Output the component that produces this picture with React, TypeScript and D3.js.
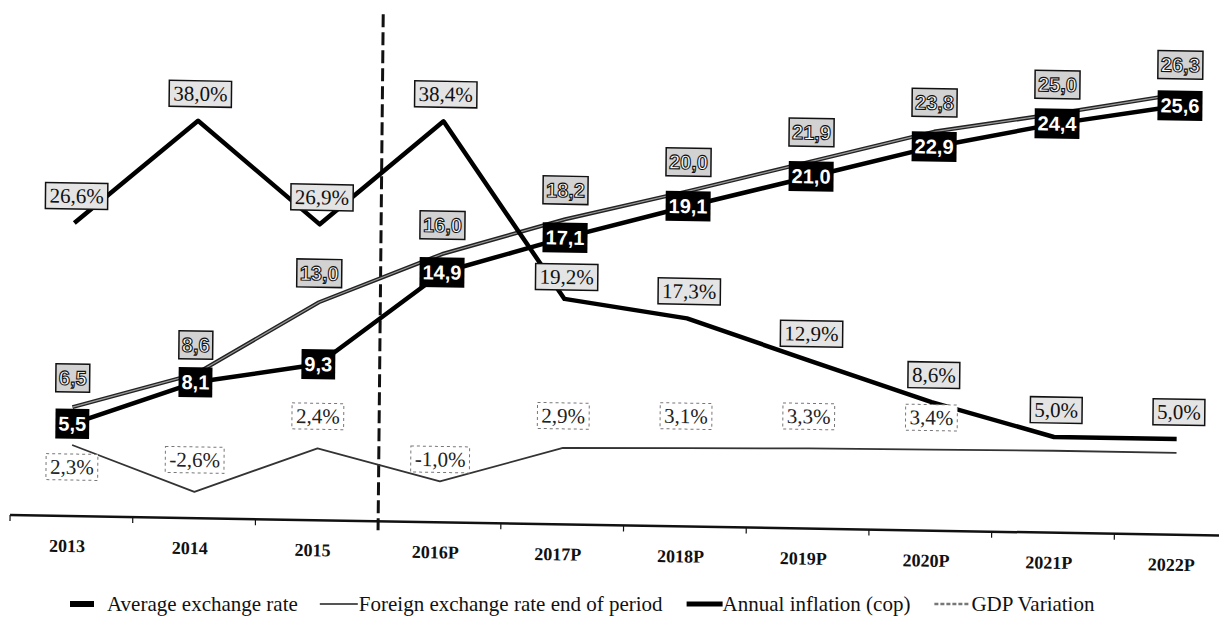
import React from 'react';
import * as d3 from 'd3';

// Categories and series (exchange rates in thousands, rates in %)
const years = ['2013', '2014', '2015', '2016P', '2017P', '2018P', '2019P', '2020P', '2021P', '2022P'];
const averageRate = [5.5, 8.1, 9.3, 14.9, 17.1, 19.1, 21.0, 22.9, 24.4, 25.6];
const endOfPeriodRate = [6.5, 8.6, 13.0, 16.0, 18.2, 20.0, 21.9, 23.8, 25.0, 26.3];
const inflation = [26.6, 38.0, 26.9, 38.4, 19.2, 17.3, 12.9, 8.6, 5.0, 5.0];
const gdpVariation = [2.3, -2.6, 2.4, -1.0, 2.9, 3.1, 3.3, 3.4, 3.5, 3.5];
const gdpLabelCount = 8;
const forecastStart = '2016P';
const legendLabels = [
  'Average exchange rate',
  'Foreign exchange rate end of period',
  'Annual inflation (cop)',
  'GDP Variation',
];

const W = 1219;
const H = 622;

const fmt = (v: number) => v.toFixed(1).replace('.', ',');
const fmtPct = (v: number) => fmt(v) + '%';

let ctx: CanvasRenderingContext2D | null = null;
function measure(text: string, font: string): number {
  if (typeof document === 'undefined') return text.length * 10;
  if (!ctx) ctx = document.createElement('canvas').getContext('2d');
  if (!ctx) return text.length * 10;
  ctx.font = font;
  return ctx.measureText(text).width;
}

const SANS = '"Liberation Sans", Arial, sans-serif';
const SERIF = '"Liberation Serif", "Times New Roman", serif';

export default function App() {
  const x = d3.scaleBand<string>().domain(years).range([10, 1237]);
  const cx = (d: string) => (x(d) as number) + x.bandwidth() / 2;
  const yRate = d3.scaleLinear().domain([0, 30]).range([515, 12]);
  const yPct = d3.scaleLinear().domain([-5, 50]).range([510.7, 8]);

  const line = (ys: (v: number) => number) =>
    d3
      .line<number>()
      .x((_, i) => cx(years[i]))
      .y((v) => ys(v));

  const avgPath = line(yRate)(averageRate) as string;
  const endPath = line(yRate)(endOfPeriodRate) as string;
  const inflPath = line(yPct)(inflation) as string;
  const gdpPath = line(yPct)(gdpVariation) as string;

  const dividerX = x(forecastStart) as number;

  const boxFontSans = `bold 20px ${SANS}`;
  const boxFontSerif = `21px ${SERIF}`;

  // slight skew of the whole plot area
  const skew = 'matrix(1,0.017,-0.01,1,5.2,-0.17)';

  const legendY = 604;
  const legendFont = 21;
  const lx1 = 107;
  const lx2 = lx1 + measure(legendLabels[0], `${legendFont}px ${SERIF}`) + 22;
  const lx3 = lx2 + 39 + measure(legendLabels[1], `${legendFont}px ${SERIF}`) + 24;
  const lx4 = lx3 + 36 + measure(legendLabels[2], `${legendFont}px ${SERIF}`) + 24;

  return (
    <svg
      width={W}
      height={H}
      viewBox={`0 0 ${W} ${H}`}
      style={{ position: 'absolute', left: 0, top: 0, background: '#fff' }}
    >
      <rect x={0} y={0} width={W} height={H} fill="#fff" />
      <g transform={skew}>
        {/* category axis */}
        <line x1={10} x2={1230} y1={515} y2={515} stroke="#111" strokeWidth={2.5} />
        {years.map((d) => (
          <line key={'t' + d} x1={x(d) as number} x2={x(d) as number} y1={515} y2={521} stroke="#111" strokeWidth={1.2} />
        ))}
        {years.map((d) => (
          <text
            key={'xl' + d}
            x={cx(d) - 4}
            y={551}
            textAnchor="middle"
            fontFamily={SERIF}
            fontWeight="bold"
            fontSize={18}
            fill="#111"
          >
            {d}
          </text>
        ))}

        {/* forecast divider */}
        <line
          x1={dividerX}
          x2={dividerX}
          y1={8}
          y2={524}
          stroke="#111"
          strokeWidth={3}
          strokeDasharray="13 5"
        />

        {/* GDP variation */}
        <path d={gdpPath} fill="none" stroke="#333" strokeWidth={1.8} strokeLinejoin="round" />

        {/* end of period exchange rate: dark edged line with a lighter core */}
        <path d={endPath} fill="none" stroke="#222" strokeWidth={4} strokeLinejoin="round" />
        <path d={endPath} fill="none" stroke="#9a9a9a" strokeWidth={1.2} strokeLinejoin="round" />

        {/* average exchange rate */}
        <path d={avgPath} fill="none" stroke="#000" strokeWidth={4.5} strokeLinejoin="round" />

        {/* annual inflation */}
        <path d={inflPath} fill="none" stroke="#000" strokeWidth={4.5} strokeLinejoin="round" />

        {/* GDP labels */}
        {gdpVariation.slice(0, gdpLabelCount).map((v, i) => {
          const t = fmtPct(v);
          const w = measure(t, boxFontSerif) + 8;
          const px = cx(years[i]);
          const py = yPct(v) + (i === 0 ? 22 : i === 3 ? -22 : -32);
          return (
            <g key={'gl' + i}>
              <rect
                x={px - w / 2}
                y={py - 13}
                width={w}
                height={26}
                fill="#fff"
                stroke="#777"
                strokeWidth={1}
                strokeDasharray="3 3"
              />
              <text x={px} y={py + 7} textAnchor="middle" fontFamily={SERIF} fontSize={21} fill="#222">
                {t}
              </text>
            </g>
          );
        })}

        {/* inflation labels */}
        {inflation.map((v, i) => {
          const t = fmtPct(v);
          const w = measure(t, boxFontSerif) + 8;
          const px = cx(years[i]) + 2;
          const py = yPct(v) - (i === 4 ? 22 : 27);
          return (
            <g key={'il' + i}>
              <rect x={px - w / 2} y={py - 13} width={w} height={26} fill="#e4e4e4" stroke="#111" strokeWidth={1.5} />
              <text x={px} y={py + 7} textAnchor="middle" fontFamily={SERIF} fontSize={21} fill="#111">
                {t}
              </text>
            </g>
          );
        })}

        {/* end of period labels */}
        {endOfPeriodRate.map((v, i) => {
          const t = fmt(v);
          const w = measure(t, boxFontSans) + 6;
          const px = cx(years[i]);
          const py = yRate(v) - 29;
          return (
            <g key={'el' + i}>
              <rect x={px - w / 2} y={py - 14} width={w} height={28} fill="#d2d2d2" stroke="#111" strokeWidth={1.5} />
              <text
                x={px}
                y={py + 7}
                textAnchor="middle"
                fontFamily={SANS}
                fontWeight="bold"
                fontSize={20}
                fill="#fff"
                stroke="#111"
                strokeWidth={1.1}
              >
                {t}
              </text>
            </g>
          );
        })}

        {/* average rate labels */}
        {averageRate.map((v, i) => {
          const t = fmt(v);
          const w = measure(t, boxFontSans) + 6;
          const px = cx(years[i]);
          const py = yRate(v);
          return (
            <g key={'al' + i}>
              <rect x={px - w / 2} y={py - 15} width={w} height={30} fill="#000" />
              <text x={px} y={py + 7} textAnchor="middle" fontFamily={SANS} fontWeight="bold" fontSize={20} fill="#fff">
                {t}
              </text>
            </g>
          );
        })}
      </g>

      {/* legend */}
      <g fontFamily={SERIF} fontSize={legendFont} fill="#111">
        <rect x={lx1 - 37} y={legendY - 3} width={24} height={6} fill="#000" />
        <text x={lx1} y={legendY + 7}>{legendLabels[0]}</text>
        <line x1={lx2} x2={lx2 + 38} y1={legendY} y2={legendY} stroke="#555" strokeWidth={2} />
        <text x={lx2 + 39} y={legendY + 7}>{legendLabels[1]}</text>
        <line x1={lx3} x2={lx3 + 36} y1={legendY} y2={legendY} stroke="#000" strokeWidth={5} />
        <text x={lx3 + 36} y={legendY + 7}>{legendLabels[2]}</text>
        <line x1={lx4} x2={lx4 + 36} y1={legendY} y2={legendY} stroke="#777" strokeWidth={2.5} strokeDasharray="4 2" />
        <text x={lx4 + 37} y={legendY + 7}>{legendLabels[3]}</text>
      </g>
    </svg>
  );
}
